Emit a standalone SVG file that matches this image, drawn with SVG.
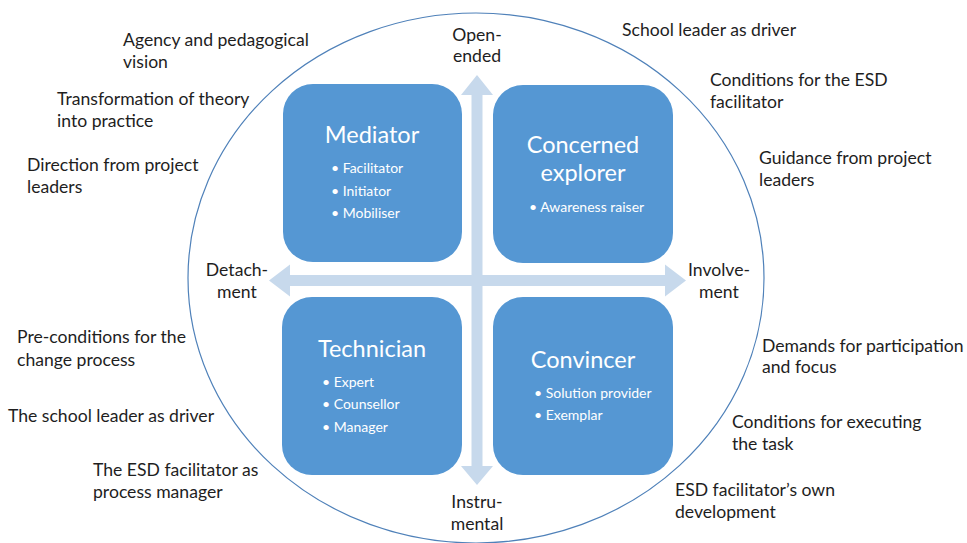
<svg xmlns="http://www.w3.org/2000/svg" width="967" height="543" viewBox="0 0 967 543">
  <style>
    text { font-family: Lato, "Open Sans", "Liberation Sans", sans-serif; }
    .side { font-size: 17.6px; fill: #1e1e1e; }
    .axis { font-size: 17.6px; fill: #1e1e1e; text-anchor: middle; }
    .box { fill: #5597d3; }
    .title { font-size: 23.5px; fill: #ffffff; text-anchor: middle; }
    .item { font-size: 14px; fill: #ffffff; }
    .arrow { fill: #c7d9ec; }
  </style>
  <rect width="967" height="543" fill="#ffffff"/>

  <!-- outer boundary -->
  <ellipse cx="476" cy="278" rx="288" ry="265" fill="none" stroke="#4f81b9" stroke-width="1.2"/>

  <!-- axes -->
  <g id="connectors">
    <polygon class="arrow" points="477,75 493,95 482.5,95 482.5,466 493,466 477,485 461,466 471.5,466 471.5,95 461,95"/>
    <polygon class="arrow" points="269,280.5 290,264.5 290,275 665,275 665,264.5 686,280.5 665,296.5 665,286 290,286 290,296.5"/>
  </g>

  <!-- quadrants -->
  <g id="mediator">
    <rect class="box" x="283" y="84" width="179" height="178" rx="30"/>
    <text class="title" x="372" y="143">Mediator</text>
    <text class="item" x="331" y="173">•  Facilitator</text>
    <text class="item" x="331" y="196">•  Initiator</text>
    <text class="item" x="331" y="218">•  Mobiliser</text>
  </g>
  <g id="concerned-explorer">
    <rect class="box" x="493" y="85" width="180" height="178" rx="30"/>
    <text class="title" x="583" y="153">Concerned</text>
    <text class="title" x="583" y="181">explorer</text>
    <text class="item" x="529" y="212">•  Awareness raiser</text>
  </g>
  <g id="technician">
    <rect class="box" x="282" y="297" width="180" height="178" rx="30"/>
    <text class="title" x="372" y="357">Technician</text>
    <text class="item" x="322" y="387">•  Expert</text>
    <text class="item" x="322" y="409">•  Counsellor</text>
    <text class="item" x="322" y="432">•  Manager</text>
  </g>
  <g id="convincer">
    <rect class="box" x="493" y="297" width="180" height="178" rx="30"/>
    <text class="title" x="583" y="368">Convincer</text>
    <text class="item" x="534" y="398">•  Solution provider</text>
    <text class="item" x="534" y="420">•  Exemplar</text>
  </g>

  <!-- axis labels -->
  <g id="label-open-ended">
    <text class="axis" x="477" y="41">Open-</text>
    <text class="axis" x="477" y="62">ended</text>
  </g>
  <g id="label-detachment">
    <text class="axis" x="237" y="276">Detach-</text>
    <text class="axis" x="237" y="298">ment</text>
  </g>
  <g id="label-involvement">
    <text class="axis" x="719" y="276">Involve-</text>
    <text class="axis" x="719" y="298">ment</text>
  </g>
  <g id="label-instrumental">
    <text class="axis" x="477" y="508">Instru-</text>
    <text class="axis" x="477" y="530">mental</text>
  </g>

  <!-- surrounding factors, left -->
  <g id="agency">
    <text class="side" x="123" y="46">Agency and pedagogical</text>
    <text class="side" x="123" y="68">vision</text>
  </g>
  <g id="transformation">
    <text class="side" x="57" y="105">Transformation of theory</text>
    <text class="side" x="57" y="127">into practice</text>
  </g>
  <g id="direction">
    <text class="side" x="27" y="171">Direction from project</text>
    <text class="side" x="27" y="193">leaders</text>
  </g>
  <g id="preconditions">
    <text class="side" x="17" y="343">Pre-conditions for the</text>
    <text class="side" x="17" y="366">change process</text>
  </g>
  <g id="school-leader-left">
    <text class="side" x="8" y="422">The school leader as driver</text>
  </g>
  <g id="process-manager">
    <text class="side" x="93" y="476">The ESD facilitator as</text>
    <text class="side" x="93" y="498">process manager</text>
  </g>

  <!-- surrounding factors, right -->
  <g id="school-leader-right">
    <text class="side" x="622" y="36">School leader as driver</text>
  </g>
  <g id="conditions-facilitator">
    <text class="side" x="710" y="86">Conditions for the ESD</text>
    <text class="side" x="710" y="108">facilitator</text>
  </g>
  <g id="guidance">
    <text class="side" x="759" y="164">Guidance from project</text>
    <text class="side" x="759" y="186">leaders</text>
  </g>
  <g id="demands">
    <text class="side" x="762" y="352">Demands for participation</text>
    <text class="side" x="762" y="373">and focus</text>
  </g>
  <g id="conditions-task">
    <text class="side" x="732" y="428">Conditions for executing</text>
    <text class="side" x="732" y="450">the task</text>
  </g>
  <g id="own-development">
    <text class="side" x="675" y="496">ESD facilitator’s own</text>
    <text class="side" x="675" y="518">development</text>
  </g>
</svg>
